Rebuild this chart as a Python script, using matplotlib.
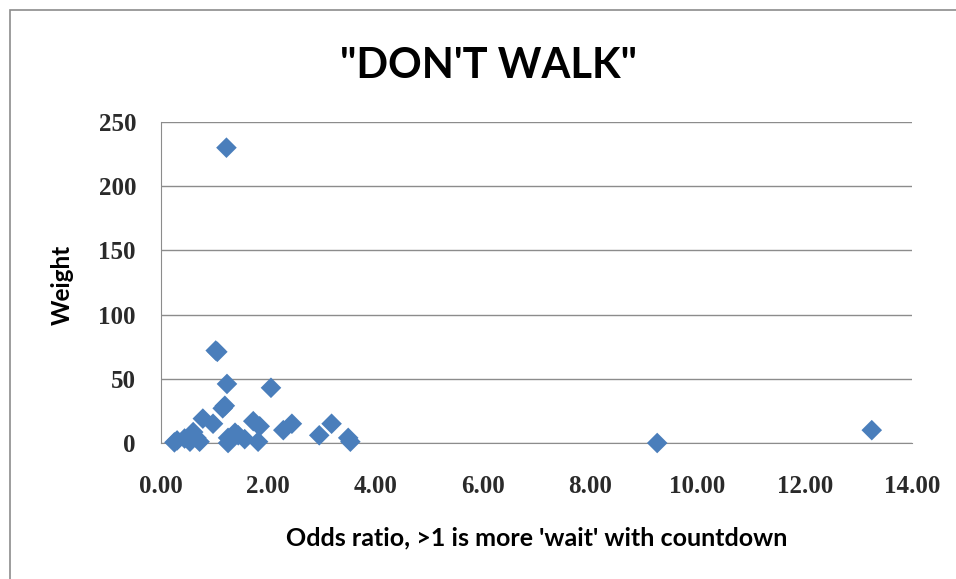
import matplotlib.pyplot as plt
from matplotlib.patches import Rectangle

# odds ratio vs weight, one point per study
odds_ratio = [0.25, 0.30, 0.44, 0.54, 0.60, 0.66, 0.72, 0.78, 0.97, 1.02,
              1.05, 1.15, 1.19, 1.22, 1.23, 1.25, 1.25, 1.38, 1.44, 1.56,
              1.72, 1.81, 1.84, 2.05, 2.28, 2.44, 2.95, 3.18, 3.49, 3.53,
              9.25, 13.25]
weight = [0.5, 2, 3.5, 1, 8.5, 4, 1, 19, 15, 72,
          71, 27, 29, 230, 46, 4, 0, 8, 6, 3,
          17, 1, 13, 43, 10, 15, 6, 15, 4, 1,
          0, 10]

x_ticks = [0, 2, 4, 6, 8, 10, 12, 14]
y_ticks = [0, 50, 100, 150, 200, 250]

W, H = 956, 579
fig = plt.figure(figsize=(W / 100, H / 100), dpi=100)
ax = fig.add_axes([161 / W, 1 - 443 / H, (912 - 161) / W, (443 - 122) / H])

ax.scatter(odds_ratio, weight, marker='D', s=110, color='#4a7ebb',
           edgecolors='none', zorder=3, clip_on=False)

ax.set_xlim(0, 14)
ax.set_ylim(0, 250)
ax.set_xticks(x_ticks)
ax.set_xticklabels([f'{v:.2f}' for v in x_ticks])
ax.set_yticks(y_ticks)
ax.yaxis.grid(True, color='#8c8c8c', lw=1)
ax.set_axisbelow(True)
for side in ['top', 'right']:
    ax.spines[side].set_visible(False)
for side in ['left', 'bottom']:
    ax.spines[side].set_color('#8c8c8c')
ax.tick_params(axis='x', length=0, pad=23)
ax.tick_params(axis='y', length=0, pad=18)
for lbl in ax.get_xticklabels() + ax.get_yticklabels():
    lbl.set_fontfamily('Liberation Serif')
    lbl.set_fontweight('bold')
    lbl.set_fontsize(18)
    lbl.set_color('#2a2a2a')

fig.text(488 / W, 1 - 66 / H, '"DON\'T WALK"', ha='center', va='center',
         fontsize=30, fontweight='bold', family='Lato')
fig.text(62 / W, 1 - 285 / H, 'Weight', ha='center', va='center',
         rotation=90, fontsize=17.5, fontweight='bold', family='Lato')
fig.text(537 / W, 1 - 538 / H, "Odds ratio, >1 is more 'wait' with countdown",
         ha='center', va='center', fontsize=18, fontweight='bold', family='Lato')

# chart frame, runs off the right and bottom edges
fig.patches.append(Rectangle((10 / W, -0.05), 1.0, 1 - 10 / H + 0.05,
                             transform=fig.transFigure, fill=False,
                             edgecolor='#8c8c8c', lw=1.2))

fig.savefig('out.png', dpi=100)
